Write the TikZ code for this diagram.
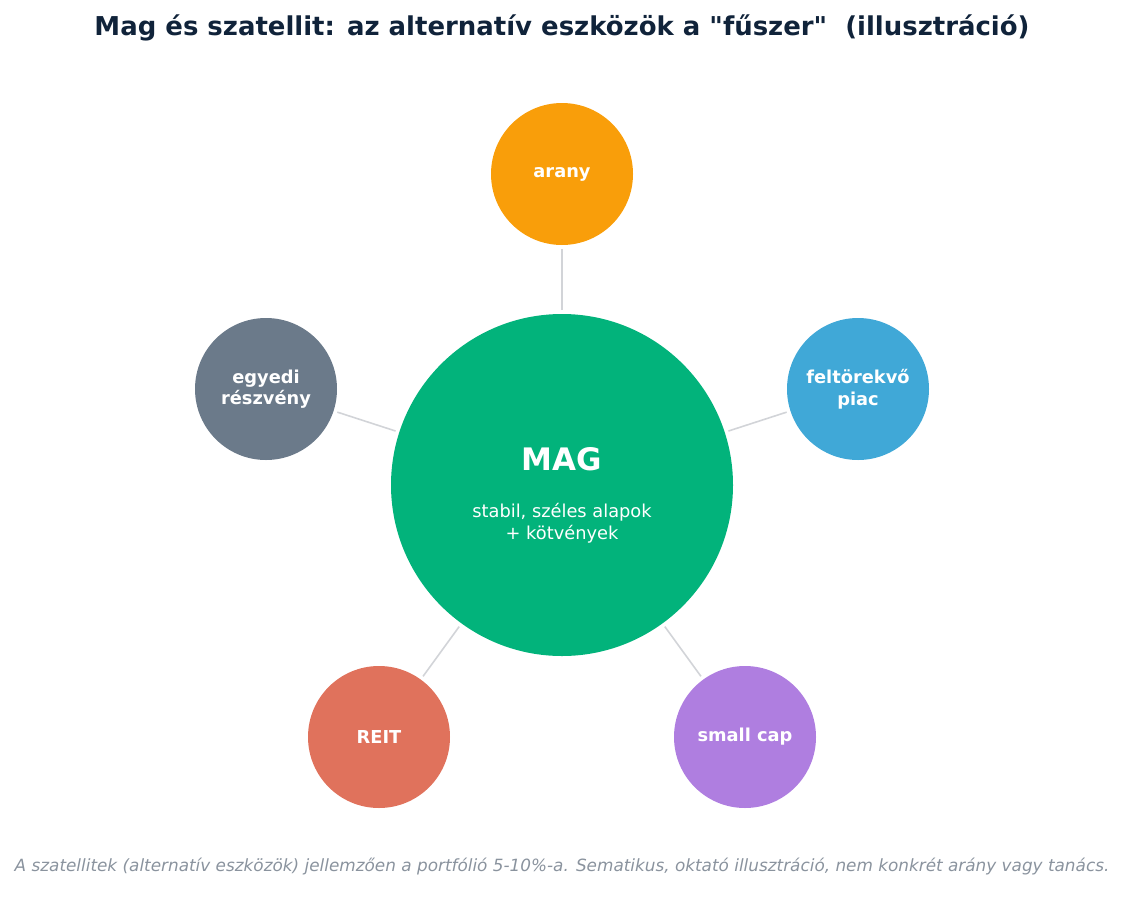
\documentclass[tikz,border=0pt]{standalone}
\usepackage{fontspec}
\setmainfont{DejaVu Sans}[Ligatures=TeXOff]
\usepackage{xcolor}
\definecolor{titleblue}{HTML}{10233A}
\definecolor{coregreen}{HTML}{02B37B}
\definecolor{goldc}{HTML}{F99E0A}
\definecolor{emergc}{HTML}{40A8D7}
\definecolor{smallc}{HTML}{AF7EE0}
\definecolor{reitc}{HTML}{E0725C}
\definecolor{stockc}{HTML}{6B7A8A}
\definecolor{linkc}{HTML}{D2D4D8}
\definecolor{notec}{HTML}{8A939E}
\tikzset{
  sat/.style={circle, inner sep=0pt, outer sep=0pt, minimum size=142bp, text=white,
    align=center, font=\fontsize{17.8bp}{21.6bp}\selectfont\bfseries},
  core/.style={circle, inner sep=0pt, outer sep=0pt, minimum size=342bp, fill=coregreen},
  link/.style={linkc, line width=1.6bp, shorten <=4bp, shorten >=4bp}
}
\begin{document}
\begin{tikzpicture}[x=1bp,y=-1bp]
\useasboundingbox (0,0) rectangle (1125,915);
\node (title) at (562,28) {\fontsize{25.95bp}{30bp}\selectfont\bfseries\color{titleblue}Mag és szatellit: az alternatív eszközök a "fűszer"\ \ (illusztráció)};
\node[core](mag) at (562,485){};
\node (magname) at (562,459) {\fontsize{31bp}{36bp}\selectfont\bfseries\color{white}MAG};
\node[align=center, text=white, font=\fontsize{17.8bp}{21.6bp}\selectfont](magsub) at (562,523){stabil, széles alapok\\+ kötvények};
\node[sat, fill=goldc](gold) at (562,174){arany};
\node[sat, fill=emergc](emerg) at (858,389){feltörekvő\\piac};
\node[sat, fill=smallc](small) at (745,737){small cap};
\node[sat, fill=reitc](reit) at (379,737){REIT};
\node[sat, fill=stockc](stock) at (266,389){egyedi\\részvény};
\draw[link] (mag) -- (gold);
\draw[link] (mag) -- (emerg);
\draw[link] (mag) -- (small);
\draw[link] (mag) -- (reit);
\draw[link] (mag) -- (stock);
\node (note) at (562,867) {\fontsize{16.85bp}{20bp}\selectfont\itshape\color{notec}A szatellitek (alternatív eszközök) jellemzően a portfólió 5-10\%-a. Sematikus, oktató illusztráció, nem konkrét arány vagy tanács.};
\end{tikzpicture}
\end{document}
